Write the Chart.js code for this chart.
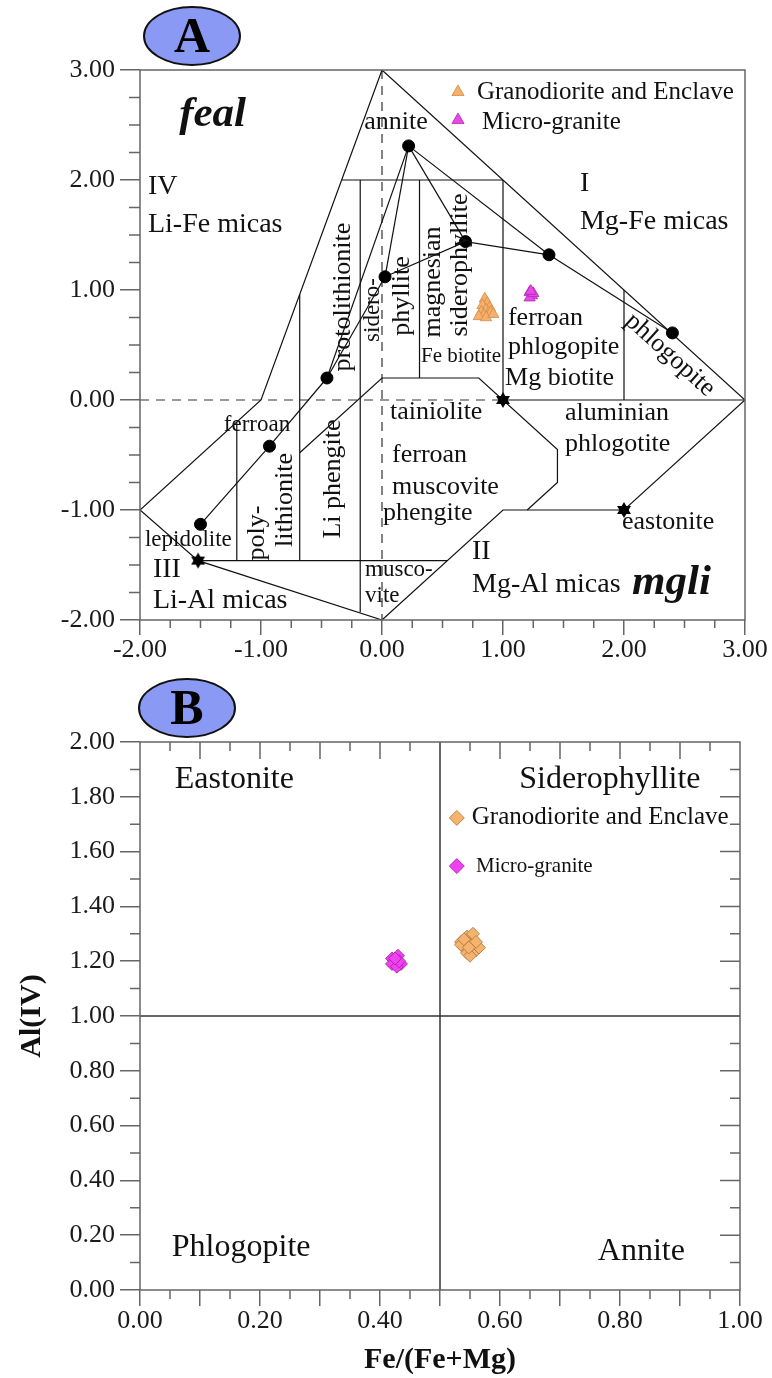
<!DOCTYPE html>
<html>
<head>
<meta charset="utf-8">
<script src="https://cdn.jsdelivr.net/npm/chart.js@4.4.0/dist/chart.umd.min.js"></script>
<style>
  html, body { margin: 0; padding: 0; background: #fff; }
  #wrap { position: relative; width: 772px; height: 1378px; }
  #chA { position: absolute; left: 0; top: 0; }
  #chB { position: absolute; left: 0; top: 660px; }
</style>
</head>
<body>
<div id="wrap">
  <canvas id="chA" width="772" height="660"></canvas>
  <canvas id="chB" width="772" height="718"></canvas>
</div>
<script>
// ============================================================
// Mica classification diagrams (A: feal vs mgli, B: Al(IV) vs Fe/(Fe+Mg))
// ============================================================

const SERIF = "'Liberation Serif', 'Times New Roman', serif";

// ── Diagram A: samples ───────────────────────────────────────
const granA_x  = [0.85, 0.87, 0.83, 0.89, 0.86, 0.82, 0.88, 0.84, 0.90, 0.80, 0.86, 0.92];
const granA_y  = [0.92, 0.88, 0.86, 0.84, 0.82, 0.80, 0.79, 0.77, 0.80, 0.76, 0.75, 0.78];
const microA_x = [1.22, 1.24, 1.22, 1.25, 1.23];
const microA_y = [0.98, 0.95, 0.93, 0.97, 0.99];

// ── Diagram A: end-members ───────────────────────────────────
const dots_x  = [0.22, 0.025, 0.69, 1.38, 2.40, -0.455, -0.93, -1.50];
const dots_y  = [2.31, 1.12, 1.44, 1.32, 0.61, 0.20, -0.42, -1.13];
const stars_x = [-1.52, 1.00, 2.00];
const stars_y = [-1.46, 0.00, -1.00];

// ── Diagram A: field boundaries ──────────────────────────────
const outerField = [[-2, -1], [-1, 0], [0, 3], [3, 0], [2, -1], [1, -1], [0, -2], [-1.52, -1.46], [-2, -1]];
const innerFields = [
    [[-0.333, 2], [1, 2]],
    [[-0.18, 2], [-0.18, -1.93]],
    [[0.31, 2], [0.31, 0.2]],
    [[1, 2], [1, 0]],
    [[2, 1], [2, 0]],
    [[1, 0], [3, 0]],
    [[-1.2, -0.2], [-1.2, -1.46]],
    [[-0.68, 0.96], [-0.68, -1.46]],
    [[-1.52, -1.46], [0.54, -1.46]],
    [[-0.68, -0.48], [0, 0.2], [0.8, 0.2], [1.45, -0.45], [1.45, -0.75], [1.2, -1.0]],
];
const dashedAxes = [[[-2, 0], [1, 0]], [[0, 3], [0, -2]]];
const tieLines = [
    [[0.22, 2.31], [0.025, 1.12]],
    [[0.22, 2.31], [-0.455, 0.2]],
    [[0.025, 1.12], [-0.455, 0.2]],
    [[0.22, 2.31], [0.69, 1.44]],
    [[0.025, 1.12], [0.69, 1.44], [1.38, 1.32]],
    [[0.22, 2.31], [1.38, 1.32], [2.40, 0.61]],
    [[-1.50, -1.13], [-0.93, -0.42], [-0.455, 0.2]],
];

// ── Diagram B: samples ───────────────────────────────────────
const granB_x  = [0.535, 0.545, 0.555, 0.540, 0.550, 0.560, 0.545, 0.535, 0.555, 0.565, 0.550, 0.540, 0.560, 0.548];
const granB_y  = [1.27, 1.29, 1.28, 1.25, 1.26, 1.24, 1.23, 1.26, 1.30, 1.25, 1.22, 1.28, 1.27, 1.25];
const microB_x = [0.420, 0.425, 0.430, 0.435, 0.420, 0.428, 0.432, 0.425];
const microB_y = [1.21, 1.20, 1.22, 1.19, 1.19, 1.18, 1.20, 1.21];
const dividersB = [[[0.5, 0], [0.5, 2]], [[0, 1], [1, 1]]];

// ── Text annotations (anchored in data units) ────────────────
const F = {
    big:   `28px ${SERIF}`,
    mid:   `26px ${SERIF}`,
    small: `23px ${SERIF}`,
    tiny:  `21px ${SERIF}`,
    bi:    `bold italic 43px ${SERIF}`,
    leg:   `25px ${SERIF}`,
    bLab:  `32px ${SERIF}`,
    legS:  `21px ${SERIF}`,
};
const labelsA = [
    { t: 'feal', x: -1.40, y: 2.59, f: 'bi', a: 'center' },
    { t: 'annite', x: 0.116, y: 2.53, f: 'mid', a: 'center' },
    { t: 'IV', x: -1.934, y: 1.94, f: 'big' },
    { t: 'Li-Fe micas', x: -1.934, y: 1.59, f: 'big' },
    { t: 'I', x: 1.636, y: 1.97, f: 'big' },
    { t: 'Mg-Fe micas', x: 1.636, y: 1.62, f: 'big' },
    { t: 'II', x: 0.744, y: -1.38, f: 'big' },
    { t: 'Mg-Al micas', x: 0.744, y: -1.68, f: 'big' },
    { t: 'III', x: -1.893, y: -1.545, f: 'big' },
    { t: 'Li-Al micas', x: -1.893, y: -1.82, f: 'big' },
    { t: 'mgli', x: 2.066, y: -1.66, f: 'bi' },
    { t: 'ferroan', x: 1.041, y: 0.745, f: 'mid' },
    { t: 'phlogopite', x: 1.041, y: 0.482, f: 'mid' },
    { t: 'Mg biotite', x: 1.017, y: 0.20, f: 'mid' },
    { t: 'Fe biotite', x: 0.653, y: 0.40, f: 'tiny', a: 'center' },
    { t: 'tainiolite', x: 0.066, y: -0.11, f: 'mid' },
    { t: 'ferroan', x: 0.083, y: -0.50, f: 'mid' },
    { t: 'muscovite', x: 0.083, y: -0.79, f: 'mid' },
    { t: 'phengite', x: 0.008, y: -1.03, f: 'mid' },
    { t: 'aluminian', x: 1.512, y: -0.118, f: 'mid' },
    { t: 'phlogotite', x: 1.512, y: -0.40, f: 'mid' },
    { t: 'eastonite', x: 1.983, y: -1.11, f: 'mid' },
    { t: 'musco-', x: -0.14, y: -1.545, f: 'small' },
    { t: 'vite', x: -0.14, y: -1.78, f: 'small' },
    { t: 'ferroan', x: -1.033, y: -0.227, f: 'small', a: 'center' },
    { t: 'lepidolite', x: -1.959, y: -1.27, f: 'small' },
    { t: 'protolithionite', x: -0.322, y: 0.936, f: 'mid', a: 'center', r: -90 },
    { t: 'sidero-', x: -0.074, y: 0.818, f: 'small', a: 'center', r: -90 },
    { t: 'phyllite', x: 0.165, y: 0.945, f: 'mid', a: 'center', r: -90 },
    { t: 'magnesian', x: 0.421, y: 1.073, f: 'mid', a: 'center', r: -90 },
    { t: 'siderophyllite', x: 0.645, y: 1.227, f: 'mid', a: 'center', r: -90 },
    { t: 'poly-', x: -1.033, y: -1.209, f: 'mid', a: 'center', r: -90 },
    { t: 'lithionite', x: -0.802, y: -0.909, f: 'mid', a: 'center', r: -90 },
    { t: 'Li phengite', x: -0.405, y: -0.718, f: 'mid', a: 'center', r: -90 },
    { t: 'phlogopite', x: 2.38, y: 0.41, f: 'mid', a: 'center', r: 42 },
    { t: 'Granodiorite and Enclave', x: 0.785, y: 2.80, f: 'leg' },
    { t: 'Micro-granite', x: 0.826, y: 2.52, f: 'leg' },
];
const labelsB = [
    { t: 'Eastonite', x: 0.058, y: 1.861, f: 'bLab' },
    { t: 'Siderophyllite', x: 0.632, y: 1.861, f: 'bLab' },
    { t: 'Phlogopite', x: 0.053, y: 0.153, f: 'bLab' },
    { t: 'Annite', x: 0.763, y: 0.139, f: 'bLab' },
    { t: 'Granodiorite and Enclave', x: 0.553, y: 1.723, f: 'leg' },
    { t: 'Micro-granite', x: 0.560, y: 1.547, f: 'legS' },
];
const legendA = [
    { x: 0.628, y: 2.80, shape: 'tri', fill: '#F6B06A', line: '#D08C48' },
    { x: 0.628, y: 2.545, shape: 'tri', fill: '#E848E8', line: '#B02AB0' },
];
const legendB = [
    { x: 0.528, y: 1.723, shape: 'dia', fill: '#F5B36E', line: '#A87440' },
    { x: 0.528, y: 1.547, shape: 'dia', fill: '#F040F0', line: '#9E209E' },
];

// ── Helpers ──────────────────────────────────────────────────
const pts = (xs, ys) => xs.map((x, i) => ({ x, y: ys[i] }));
const seg = p => p.map(([x, y]) => ({ x, y }));

function lineDs(path, dash, color, width) {
    return {
        data: seg(path), showLine: true, pointRadius: 0, fill: false, tension: 0,
        borderColor: color || '#111', borderWidth: width || 1.2, borderDash: dash || [], order: 5,
    };
}

function makeStar(r) {
    const c = document.createElement('canvas');
    c.width = c.height = r * 2 + 2;
    const g = c.getContext('2d');
    g.fillStyle = '#000';
    [0, Math.PI].forEach(off => {
        g.beginPath();
        for (let k = 0; k < 3; k++) {
            const a = off - Math.PI / 2 + k * 2 * Math.PI / 3;
            g[k ? 'lineTo' : 'moveTo'](r + 1 + r * Math.cos(a), r + 1 + r * Math.sin(a));
        }
        g.closePath();
        g.fill();
    });
    return c;
}

function marker(ctx, m, x, y) {
    ctx.beginPath();
    if (m.shape === 'tri') {
        const r = 7;
        ctx.moveTo(x, y - r); ctx.lineTo(x + r * 0.866, y + r / 2); ctx.lineTo(x - r * 0.866, y + r / 2);
    } else {
        const r = 7.5;
        ctx.moveTo(x, y - r); ctx.lineTo(x + r, y); ctx.lineTo(x, y + r); ctx.lineTo(x - r, y);
    }
    ctx.closePath();
    ctx.fillStyle = m.fill; ctx.fill();
    ctx.strokeStyle = m.line; ctx.lineWidth = 0.8; ctx.stroke();
}

function drawLabels(chart, list, legend) {
    const { ctx, scales: { x, y } } = chart;
    ctx.save();
    ctx.fillStyle = '#111';
    ctx.textBaseline = 'middle';
    list.forEach(l => {
        const px = x.getPixelForValue(l.x), py = y.getPixelForValue(l.y);
        ctx.font = F[l.f];
        ctx.textAlign = l.a || 'left';
        if (l.r) {
            ctx.save(); ctx.translate(px, py); ctx.rotate(l.r * Math.PI / 180);
            ctx.fillText(l.t, 0, 0); ctx.restore();
        } else {
            ctx.fillText(l.t, px, py);
        }
    });
    legend.forEach(m => marker(ctx, m, x.getPixelForValue(m.x), y.getPixelForValue(m.y)));
    ctx.restore();
}

function badge(ctx, cx, cy, letter) {
    ctx.save();
    ctx.beginPath();
    ctx.ellipse(cx, cy, 48, 29, 0, 0, 2 * Math.PI);
    ctx.fillStyle = '#8a9af4'; ctx.fill();
    ctx.lineWidth = 2; ctx.strokeStyle = '#111'; ctx.stroke();
    ctx.fillStyle = '#000'; ctx.font = `bold 50px ${SERIF}`;
    ctx.textAlign = 'center'; ctx.textBaseline = 'middle';
    ctx.fillText(letter, cx, cy + 3);
    ctx.restore();
}

// tick mark along an axis: side = 'bottom'|'left'|'top'|'right'
function tickMarks(chart, side, values, lenFn) {
    const { ctx, chartArea: a, scales: { x, y } } = chart;
    ctx.save();
    ctx.strokeStyle = '#666'; ctx.lineWidth = 1.5;
    ctx.beginPath();
    values.forEach(v => {
        const L = lenFn(v);
        if (side === 'bottom') { const p = x.getPixelForValue(v); ctx.moveTo(p, a.bottom); ctx.lineTo(p, a.bottom + L); }
        if (side === 'top')    { const p = x.getPixelForValue(v); ctx.moveTo(p, a.top); ctx.lineTo(p, a.top + L); }
        if (side === 'left')   { const p = y.getPixelForValue(v); ctx.moveTo(a.left, p); ctx.lineTo(a.left - L, p); }
        if (side === 'right')  { const p = y.getPixelForValue(v); ctx.moveTo(a.right, p); ctx.lineTo(a.right - L, p); }
    });
    ctx.stroke();
    ctx.restore();
}

function frame(chart) {
    const { ctx, chartArea: a } = chart;
    ctx.save();
    ctx.strokeStyle = '#666'; ctx.lineWidth = 1.5;
    ctx.strokeRect(a.left, a.top, a.right - a.left, a.bottom - a.top);
    ctx.restore();
}

const steps = (from, to, n) => Array.from({ length: n + 1 }, (_, i) => from + (to - from) * i / n);

function axisCfg(min, max, step, tickLen, pad, width, cb) {
    return {
        type: 'linear', min, max,
        ticks: { stepSize: step, autoSkip: false, maxRotation: 0, padding: pad, color: '#1a1a1a',
                 font: { family: SERIF, size: 26 }, callback: cb || (v => v.toFixed(2)) },
        grid: { drawOnChartArea: false, drawTicks: true, tickLength: tickLen, color: '#666', lineWidth: 1.5 },
        border: { display: false },
        afterFit: s => { if (s.isHorizontal()) s.height = width; else s.width = width; },
    };
}

// ── Chart A ──────────────────────────────────────────────────
const starImg = makeStar(8);
const dsA = [
    { data: pts(granA_x, granA_y), pointStyle: 'triangle', radius: 6.5, backgroundColor: '#F6B06A', borderColor: '#D08C48', borderWidth: 0.8, order: 1 },
    { data: pts(microA_x, microA_y), pointStyle: 'triangle', radius: 6.5, backgroundColor: '#E848E8', borderColor: '#B02AB0', borderWidth: 0.8, order: 1 },
    { data: pts(dots_x, dots_y), pointStyle: 'circle', radius: 6, backgroundColor: '#000', borderColor: '#000', order: 2 },
    { data: pts(stars_x, stars_y), pointStyle: starImg, order: 2 },
    lineDs(outerField),
    ...innerFields.map(p => lineDs(p)),
    ...tieLines.map(p => lineDs(p)),
    ...dashedAxes.map(p => lineDs(p, [9, 7], '#333', 1.2)),
];

new Chart(document.getElementById('chA'), {
    type: 'scatter',
    data: { datasets: dsA },
    options: {
        responsive: false, animation: false, devicePixelRatio: 1,
        layout: { padding: { left: 0, right: 27, top: 70, bottom: 0 } },
        plugins: { legend: { display: false }, tooltip: { enabled: false } },
        scales: {
            x: axisCfg(-2, 3, 1, 15, 0, 40),
            y: axisCfg(-2, 3, 1, 20, 5, 140),
        },
    },
    plugins: [{
        id: 'decorA',
        afterDraw(chart) {
            const minor = steps(-2, 3, 20).filter((v, i) => i % 4 !== 0);
            tickMarks(chart, 'bottom', minor, () => 8);
            tickMarks(chart, 'left', minor, () => 11);
            frame(chart);
            drawLabels(chart, labelsA, legendA);
            badge(chart.ctx, chart.chartArea.left + 52, chart.chartArea.top - 34, 'A');
        },
    }],
});

// ── Chart B ──────────────────────────────────────────────────
const dsB = [
    { data: pts(granB_x, granB_y), pointStyle: 'rectRot', radius: 6.5, backgroundColor: '#F5B36E', borderColor: '#A87440', borderWidth: 0.8, order: 1 },
    { data: pts(microB_x, microB_y), pointStyle: 'rectRot', radius: 6.5, backgroundColor: '#F040F0', borderColor: '#9E209E', borderWidth: 0.8, order: 1 },
    ...dividersB.map(p => lineDs(p, null, '#333', 1.5)),
];

const xB = axisCfg(0, 1, 0.1, 16, 0, 88, v => (Math.round(v * 100) % 20 === 0 ? v.toFixed(2) : ''));
xB.title = { display: true, text: 'Fe/(Fe+Mg)', color: '#111', font: { family: SERIF, size: 30, weight: 'bold' }, padding: { top: 5, bottom: 0 } };
const yB = axisCfg(0, 2, 0.2, 20, 5, 140);
yB.title = { display: true, text: 'Al(IV)', color: '#111', font: { family: SERIF, size: 30, weight: 'bold' }, padding: { top: 14, bottom: 0 } };

new Chart(document.getElementById('chB'), {
    type: 'scatter',
    data: { datasets: dsB },
    options: {
        responsive: false, animation: false, devicePixelRatio: 1,
        layout: { padding: { left: 0, right: 32, top: 82, bottom: 0 } },
        plugins: { legend: { display: false }, tooltip: { enabled: false } },
        scales: { x: xB, y: yB },
    },
    plugins: [{
        id: 'decorB',
        afterDraw(chart) {
            const xs = steps(0, 1, 20);
            tickMarks(chart, 'bottom', xs.filter((v, i) => i % 2 === 1), () => 9);
            tickMarks(chart, 'top', xs.slice(1, -1), v => (Math.round(v * 100) % 10 === 0 ? 17 : 9));
            const ys = steps(0, 2, 20);
            tickMarks(chart, 'left', ys.filter((v, i) => i % 2 === 1), () => 10);
            tickMarks(chart, 'right', ys.slice(1, -1), v => (Math.round(v * 100) % 20 === 0 ? 20 : 10));
            frame(chart);
            drawLabels(chart, labelsB, legendB);
            badge(chart.ctx, chart.chartArea.left + 47, chart.chartArea.top - 34, 'B');
        },
    }],
});
</script>
</body>
</html>
